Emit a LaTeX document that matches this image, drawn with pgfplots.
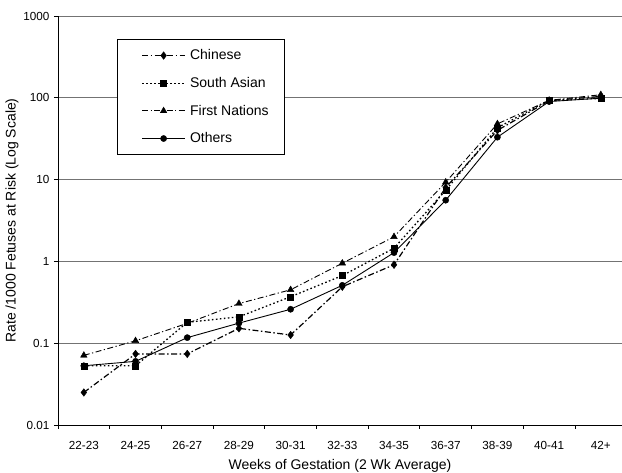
\documentclass[border=0pt]{standalone}
\usepackage{pgfplots}
\pgfplotsset{compat=1.18}
\usepackage{pgfplotstable}
\usepackage{fontspec}
\setmainfont{Liberation Sans}
\pgfplotstableread{
x Chinese SouthAsian FirstNations Others
0  0.025 0.053 0.071 0.053
1  0.074 0.053 0.107 0.060
2  0.074 0.180 0.175 0.117
3  0.152 0.210 0.305 0.176
4  0.126 0.370 0.450 0.260
5  0.490 0.670 0.950 0.510
6  0.910 1.450 2.000 1.280
7  8.000 7.400 9.300 5.600
8  40.00 43.00 48.00 33.00
9  92.00 94.00 93.00 90.00
10 104.0 98.00 109.0 99.00
}\datatable
\newcommand{\lgf}{\fontsize{11.7}{14}\selectfont}
\newcommand{\lgl}{\fontsize{14}{16}\selectfont}
\begin{document}
\begin{tikzpicture}
\begin{axis}[
  scale only axis,
  width=564pt, height=409pt,
  ymode=log,
  ymin=0.01, ymax=1000,
  xmin=-0.5, xmax=10.41,
  axis x line*=bottom,
  axis y line*=left,
  axis line style={black, line width=0.9pt},
  ytick={0.01,0.1,1,10,100,1000},
  yticklabels={0.01,0.1,1,10,100,1000},
  xtick={0,...,10},
  xticklabels={22-23,24-25,26-27,28-29,30-31,32-33,34-35,36-37,38-39,40-41,42+},
  major x tick style={draw=none},
  minor xtick={-0.5,0.5,...,9.5},
  minor tick length=4pt,
  minor x tick style={black, line width=0.9pt},
  major tick length=4pt,
  tick align=outside,
  ytick style={black, line width=0.9pt},
  yminorticks=false,
  ymajorgrids,
  major grid style={black!55, line width=0.9pt},
  tick label style={font=\lgf},
  /pgf/number format/assume math mode=true,
  xticklabel style={yshift=-9pt},
  yticklabel style={xshift=-1pt},
  xlabel={Weeks of Gestation (2 Wk Average)},
  ylabel={Rate /1000 Fetuses at Risk (Log Scale)},
  label style={font=\lgl},
  xlabel style={yshift=-2.5pt},
  ylabel style={yshift=-2pt},
  clip=false,
  legend style={
    at={(0.104,0.943)}, anchor=north west,
    draw=black, line width=0.9pt, fill=white,
    font=\lgl,
    inner ysep=8pt,
    row sep=12pt,
    nodes={inner sep=2pt, font=\lgl},
  },
  legend cell align=left,
  legend image code/.code={%
    \path[draw=none] (0pt,0pt) -- (68pt,0pt);
    \draw[mark repeat=2,mark phase=2,#1] plot coordinates {(22pt,0pt) (43.5pt,0pt) (65pt,0pt)};},
]
\addplot[black, line width=1.2pt, dash pattern=on 6pt off 2.5pt on 1.5pt off 2.5pt,
  mark=diamond*, mark size=3.8pt, mark options={solid, line width=0.4pt}]
  table[x=x, y=Chinese] {\datatable};
\addlegendentry{\makebox[89pt][l]{\lgl Chinese}}
\addplot[black, line width=1.3pt, dash pattern=on 1.6pt off 2.4pt,
  mark=square*, mark size=3pt, mark options={solid, line width=0.4pt}]
  table[x=x, y=SouthAsian] {\datatable};
\addlegendentry{\makebox[89pt][l]{\lgl South Asian}}
\addplot[black, line width=0.9pt, dash pattern=on 6pt off 2.5pt on 1.2pt off 2.5pt,
  mark=triangle*, mark size=3.8pt, mark options={solid, line width=0.4pt}]
  table[x=x, y=FirstNations] {\datatable};
\addlegendentry{\makebox[89pt][l]{\lgl First Nations}}
\addplot[black, line width=0.9pt, solid,
  mark=*, mark size=3.1pt, mark options={solid, line width=0.4pt}]
  table[x=x, y=Others] {\datatable};
\addlegendentry{\makebox[89pt][l]{\lgl Others}}
\end{axis}
\pgfresetboundingbox
\path[use as bounding box] ([xshift=-58pt,yshift=-47pt]current axis.south west) rectangle ([yshift=16pt]current axis.north east);
\end{tikzpicture}
\end{document}
